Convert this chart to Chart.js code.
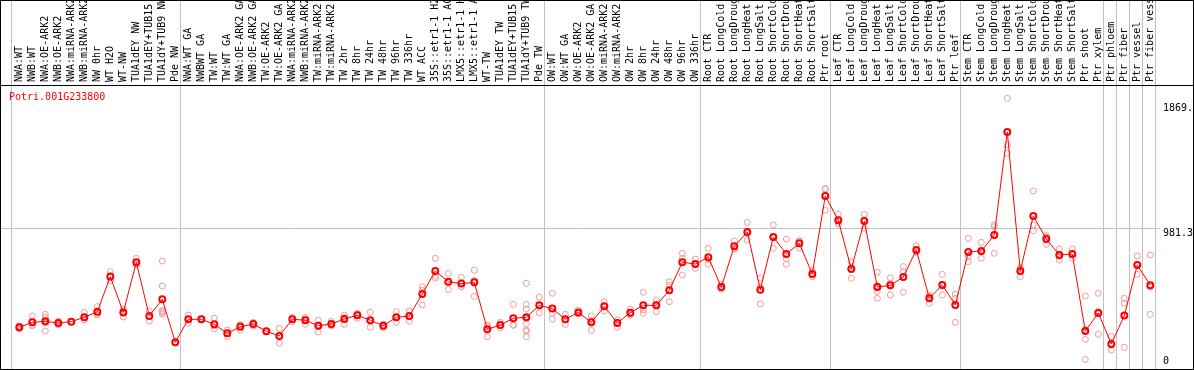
<!DOCTYPE html>
<html><head><meta charset="utf-8">
<script src="https://cdn.jsdelivr.net/npm/chart.js@4/dist/chart.umd.min.js"></script>
<style>html,body{margin:0;padding:0;background:#fff;}canvas{display:block;}</style>
</head><body>
<canvas id="c" width="1194" height="370"></canvas>
<script>
const geneId = 'Potri.001G233800';

const categories = [
  'NWA:WT','NWB:WT','NWA:OE-ARK2','NWB:OE-ARK2','NWA:miRNA-ARK2','NWB:miRNA-ARK2','NW 0hr','WT H2O','WT-NW',
  'TUA1dEY NW','TUA1dEY+TUB15 NW','TUA1dY+TUB9 NW','Pde NW',
  'NWA:WT GA','NWBWT GA','TW:WT','TW:WT GA','NWA:OE-ARK2 GA','NWB:OE-ARK2 GA','TW:OE-ARK2','TW:OE-ARK2 GA',
  'NWA:miRNA-ARK2','NWB:miRNA-ARK2','TW:miRNA-ARK2','TW:miRNA-ARK2','TW 2hr','TW 8hr','TW 24hr','TW 48hr','TW 96hr','TW 336hr',
  'WT ACC','35S::etr1-1 H2O','35S::etr1-1 ACC','LMX5::etr1-1 H2O','LMX5::etr1-1 ACC','WT-TW','TUA1dEY TW',
  'TUA1dEY+TUB15 TW','TUA1dY+TUB9 TW','Pde TW',
  'OW:WT','OW:WT GA','OW:OE-ARK2','OW:OE-ARK2 GA','OW:miRNA-ARK2','OW:miRNA-ARK2','OW 2hr','OW 8hr','OW 24hr','OW 48hr','OW 96hr','OW 336hr',
  'Root CTR','Root LongCold','Root LongDrought','Root LongHeat','Root LongSalt','Root ShortCold','Root ShortDrought','Root ShortHeat','Root ShortSalt','Ptr root',
  'Leaf CTR','Leaf LongCold','Leaf LongDrought','Leaf LongHeat','Leaf LongSalt','Leaf ShortCold','Leaf ShortDrought','Leaf ShortHeat','Leaf ShortSalt','Ptr leaf',
  'Stem CTR','Stem LongCold','Stem LongDrought','Stem LongHeat','Stem LongSalt','Stem ShortCold','Stem ShortDrought','Stem ShortHeat','Stem ShortSalt','Ptr shoot','Ptr xylem',
  'Ptr phloem','Ptr fiber','Ptr vessel','Ptr fiber vessel'
];

const groupSizes = [13, 28, 12, 10, 10, 11, 1, 1, 1, 1];

const means = [
  276, 311, 318, 306, 316, 347, 387, 637, 382, 739, 356, 475, 169,
  333, 333, 297, 233, 280, 299, 247, 214, 333, 326, 287, 299, 335, 361, 326, 287, 347, 356, 513, 677, 601, 587, 596, 261, 292, 340, 347, 432,
  409, 333, 382, 311, 425, 306, 380, 432, 432, 539, 739, 727,
  775, 563, 853, 955, 544, 919, 798, 874, 656, 1211,
  1038, 691, 1033, 563, 575, 634, 827, 482, 577, 435,
  812, 820, 934, 1668, 677, 1069, 905, 791, 798, 249, 378,
  157, 359, 720, 575
];

const replicates = [
  [287,264,276],[356,287,290],[368,347,249,308],[318,294,306],[316,316],[382,330,330],[423,363,375],[672,606,633],
  [406,349,390],[767,720,730],[392,321,356],[748,570,396,388,380,370],[172,166],
  [363,304,333],[336,330],[340,264,287],[256,209,235],[295,256,290],[311,285,300],[250,244],[268,162,212],
  [347,316,335],[347,297,335],[326,242,293],[318,287,292],[363,297,345],[368,340,375],[382,276,320],[290,273,298],
  [387,311,343],[392,356,320],[565,540,435],[767,625,640],[660,546,597],[632,565,565],[682,610,496],[292,209,282],
  [311,273,292],[439,292,290],[589,439,406,340,304,256,247,209],[491,378,427],
  [518,333,376],[368,297,333],[399,375,372],[356,254,323],[458,392,425],[330,276,312],[406,363,371],[525,399,375],
  [470,387,440],[601,575,458],[803,648,766],[762,696,723],
  [839,725,761],[580,549,560],[891,834,834],[1024,898,943],[625,442,565],[1005,839,913],[905,725,764],[893,839,890],
  [677,637,654],[1259,1109,1265],
  [1081,1010,1023],[743,625,705],[1081,981,1037],[668,530,482,572],[629,506,590],[708,525,670],[857,810,814],
  [506,447,493],[653,506,572],[512,311,482],
  [910,743,783],[881,767,812],[993,803,1006],[1908,1575,1516],[701,637,693],[1247,1005,964],[929,867,919],
  [834,755,784],[834,767,793],[499,190,47,260],[518,226,390],
  [209,114,148],[482,447,133],[784,653,723],[791,565,368]
];

const yTickValues = [0, 981.3, 1869];
const yTickLabels = ['0', '981.3', '1869.'];

// ---- scale geometry ----
const X_MIN = -1.408, X_MAX = 87.746;
const Y_MIN = -21.4, Y_MAX = 2002.4;
const SEP_SHIFT = 0.4;
const FONT = {family: "'DejaVu Sans Mono', monospace", size: 10, lineHeight: 1};

const separators = [-1 + SEP_SHIFT];
{ let acc = 0; for (const n of groupSizes) { acc += n; separators.push(acc - 1 + SEP_SHIFT); } }

const meanPoints = means.map((v, i) => ({x: i, y: v}));
const repPoints = [];
replicates.forEach((arr, i) => arr.forEach(v => repPoints.push({x: i, y: v})));

const framePlugin = {
  id: 'frame',
  afterDraw(chart) {
    const {ctx, chartArea, width, height} = chart;
    ctx.save();
    ctx.strokeStyle = '#000';
    ctx.lineWidth = 1;
    ctx.strokeRect(0.5, 0.5, width - 1, height - 1);
    ctx.beginPath();
    ctx.moveTo(0, Math.round(chartArea.top) + 0.5);
    ctx.lineTo(width, Math.round(chartArea.top) + 0.5);
    ctx.stroke();
    ctx.fillStyle = '#ff0000';
    ctx.font = "10px 'DejaVu Sans Mono', monospace";
    ctx.textBaseline = 'middle';
    ctx.textAlign = 'left';
    ctx.fillText(geneId, chartArea.left + 8, chartArea.top + 12.5);
    ctx.restore();
  }
};

Chart.defaults.font.family = FONT.family;
Chart.defaults.font.size = 10;

new Chart(document.getElementById('c'), {
  type: 'line',
  data: {
    datasets: [
      {
        label: 'mean', data: meanPoints, xAxisID: 'x', yAxisID: 'y',
        borderColor: '#ff0000', borderWidth: 1, tension: 0,
        pointRadius: 3, pointBorderWidth: 2, pointBorderColor: '#ff0000',
        pointBackgroundColor: 'rgba(0,0,0,0)'
      },
      {
        label: 'replicates', data: repPoints, xAxisID: 'x', yAxisID: 'y', showLine: false,
        borderColor: '#f09a9a', pointRadius: 3, pointBorderWidth: 1,
        pointBorderColor: '#f09a9a', pointBackgroundColor: 'rgba(0,0,0,0)'
      }
    ]
  },
  options: {
    responsive: false, devicePixelRatio: 1, animation: false,
    layout: {autoPadding: false, padding: {left: 1, right: 1, top: 0, bottom: 1}},
    plugins: {legend: {display: false}, tooltip: {enabled: false}},
    scales: {
      x: {
        type: 'linear', axis: 'x', position: 'top', min: X_MIN, max: X_MAX, weight: 2,
        grid: {display: false, drawTicks: false}, border: {display: false},
        afterBuildTicks: s => { s.ticks = categories.map((_, i) => ({value: i})); },
        afterFit: s => { s.height = 85; s.paddingLeft = 0; s.paddingRight = 0; },
        ticks: {
          autoSkip: false, maxRotation: 90, minRotation: 90, padding: 3, labelOffset: 10, color: '#000',
          font: FONT, callback: v => categories[v]
        }
      },
      sep: {
        type: 'linear', axis: 'x', position: 'top', min: X_MIN, max: X_MAX, weight: 1,
        ticks: {display: false}, border: {display: false},
        grid: {color: '#c0c0c0', lineWidth: 1, drawTicks: true, tickLength: 85},
        afterBuildTicks: s => { s.ticks = separators.map(v => ({value: v})); },
        afterFit: s => { s.height = 0; s.paddingLeft = 0; s.paddingRight = 0; }
      },
      y: {
        type: 'linear', position: 'right', min: Y_MIN, max: Y_MAX,
        border: {display: false},
        grid: {
          drawTicks: false,
          color: c => (c.tick && c.tick.value === 981.3) ? '#c0c0c0' : 'rgba(0,0,0,0)'
        },
        afterBuildTicks: s => { s.ticks = yTickValues.map(v => ({value: v})); },
        afterFit: s => { s.width = 33; s.paddingTop = 0; s.paddingBottom = 0; },
        ticks: {
          padding: 3, crossAlign: 'near', color: '#000', font: FONT,
          callback: (v) => {
            const k = yTickValues.indexOf(v);
            const lab = k >= 0 ? yTickLabels[k] : '';
            return v === 0 ? [lab, ''] : ['', lab];
          }
        }
      }
    }
  },
  plugins: [framePlugin]
});
</script>
</body></html>
